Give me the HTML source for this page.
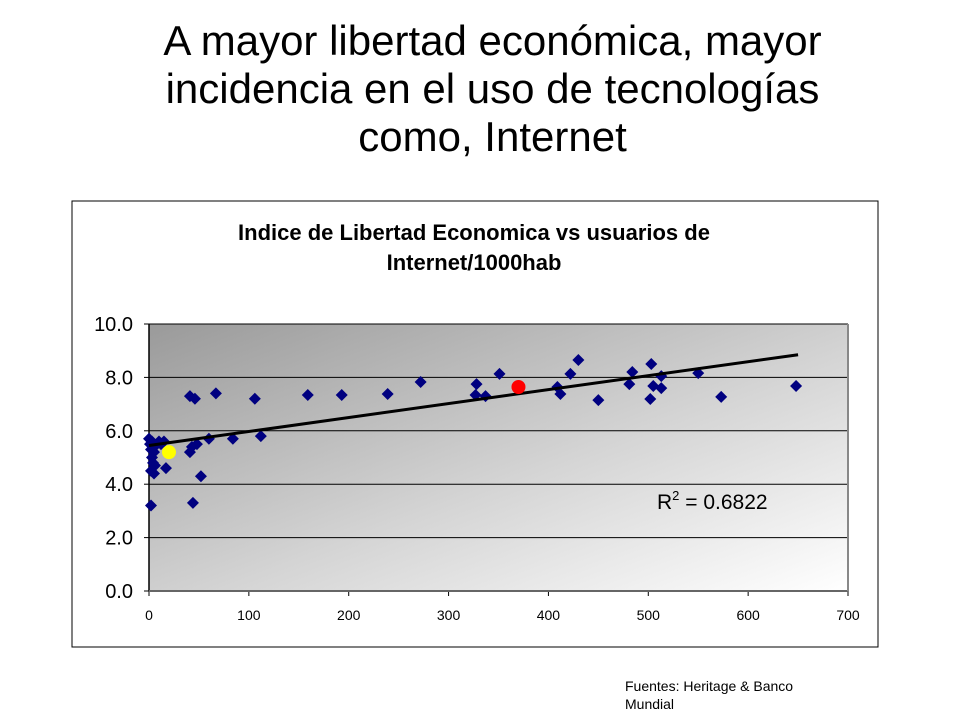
<!DOCTYPE html>
<html><head><meta charset="utf-8"><style>
body{margin:0;width:960px;height:720px;background:#fff;font-family:"Liberation Sans",Arial,sans-serif;overflow:hidden;position:relative}
#title{position:absolute;left:0;width:985px;top:17px;text-align:center;font-size:42px;line-height:48px;color:#000}
#src{position:absolute;left:625px;top:677px;font-size:14px;line-height:18px;width:210px}
</style></head><body>
<div id="title">A mayor libertad económica, mayor<br>incidencia en el uso de tecnologías<br>como, Internet</div>
<svg id="chart" width="960" height="720" style="position:absolute;left:0;top:0">
<defs><linearGradient id="bg" x1="0" y1="0" x2="1" y2="1">
<stop offset="0" stop-color="#9a9a9a"/><stop offset="0.55" stop-color="#d4d4d4"/><stop offset="1" stop-color="#ffffff"/></linearGradient></defs>
<rect x="72" y="201" width="806" height="446" fill="#fff" stroke="#000" stroke-width="1"/>
<text x="474" y="240" text-anchor="middle" font-size="22" font-weight="bold">Indice de Libertad Economica vs usuarios de</text>
<text x="474" y="270" text-anchor="middle" font-size="22" font-weight="bold">Internet/1000hab</text>
<rect x="149" y="324" width="699" height="267" fill="url(#bg)"/>
<g id="grid"></g><g id="axes"></g><g id="marks"></g>
<text x="657" y="509" font-size="21">R<tspan dy="-9" font-size="13">2</tspan><tspan dy="9"> = 0.6822</tspan></text>
</svg>
<div id="src">Fuentes: Heritage &amp; Banco Mundial</div>
<script>
const xVals=[2,44,52,17,0,1,2,3,4,2,5,6,8,10,12,15,3,5,41,46,67,106,41,43,48,60,84,112,159,193,239,272,328,327,337,351,409,412,422,430,450,481,484,503,502,505,513,513,550,573,648];
const yVals=[3.2,3.3,4.3,4.6,5.7,5.5,5.3,5.0,4.8,4.5,4.4,4.7,5.5,5.6,5.5,5.6,5.6,5.2,7.3,7.2,7.4,7.2,5.2,5.4,5.5,5.7,5.7,5.8,7.34,7.34,7.38,7.83,7.75,7.34,7.3,8.13,7.64,7.38,8.13,8.65,7.15,7.75,8.2,8.5,7.19,7.68,8.05,7.6,8.16,7.27,7.68];
const highlightX=[370,20];
const highlightY=[7.64,5.2];
const highlightColors=['#ff0000','#ffff00'];
const trendX=[0,650];
const trendY=[5.45,8.85];
const xTicks=[0,100,200,300,400,500,600,700];
const yTicks=[0,2,4,6,8,10];
const yTickLabels=['0.0','2.0','4.0','6.0','8.0','10.0'];
const NS='http://www.w3.org/2000/svg';
const X0=149,X1=848,Y0=591,Y1=324;
const sx=v=>X0+(v-0)/(700-0)*(X1-X0);
const sy=v=>Y0-(v-0)/(10-0)*(Y0-Y1);
function mk(t,a,p){const e=document.createElementNS(NS,t);for(const k in a)e.setAttribute(k,a[k]);p.appendChild(e);return e;}
const grid=document.getElementById('grid'),axes=document.getElementById('axes'),marks=document.getElementById('marks');
yTicks.forEach((v,i)=>{
 if(v>0){const g=mk('line',{x1:X0,x2:X1,y1:sy(v),y2:sy(v),stroke:'#000','stroke-width':1},grid);
 
 }
 const t=mk('line',{x1:X0-5,x2:X0,y1:sy(v),y2:sy(v),stroke:'#000'},axes);
 
 
 const l=mk('text',{x:X0-16,y:sy(v)+7,'text-anchor':'end','font-size':20},axes);
 l.textContent=yTickLabels[i];
 
 
});
xTicks.forEach(v=>{
 const t=mk('line',{x1:sx(v),x2:sx(v),y1:Y0,y2:Y0+5,stroke:'#000'},axes);
 
 
 const l=mk('text',{x:sx(v),y:Y0+29,'text-anchor':'middle','font-size':14},axes);
 l.textContent=v;
 
 
});
const ya=mk('line',{x1:X0,x2:X0,y1:Y1,y2:Y0,stroke:'#000','stroke-width':1.5},axes);


const xa=mk('line',{x1:X0,x2:X1,y1:Y0,y2:Y0,stroke:'#666','stroke-width':2},axes);


mk('line',{x1:X1,x2:X1,y1:Y1,y2:Y0,stroke:'#888','stroke-width':2},axes);
xVals.forEach((v,i)=>{
 const cx=sx(v),cy=sy(yVals[i]);
 const p=mk('polygon',{points:`${cx},${cy-6} ${cx+6},${cy} ${cx},${cy+6} ${cx-6},${cy}`,fill:'#000080'},marks);
 
 
});
const tl=mk('line',{x1:sx(trendX[0]),y1:sy(trendY[0]),x2:sx(trendX[1]),y2:sy(trendY[1]),stroke:'#000','stroke-width':3},marks);


highlightX.forEach((v,i)=>{
 const c=mk('circle',{cx:sx(v),cy:sy(highlightY[i]),r:7,fill:highlightColors[i]},marks);
 
 
});
</script>
</body></html>
